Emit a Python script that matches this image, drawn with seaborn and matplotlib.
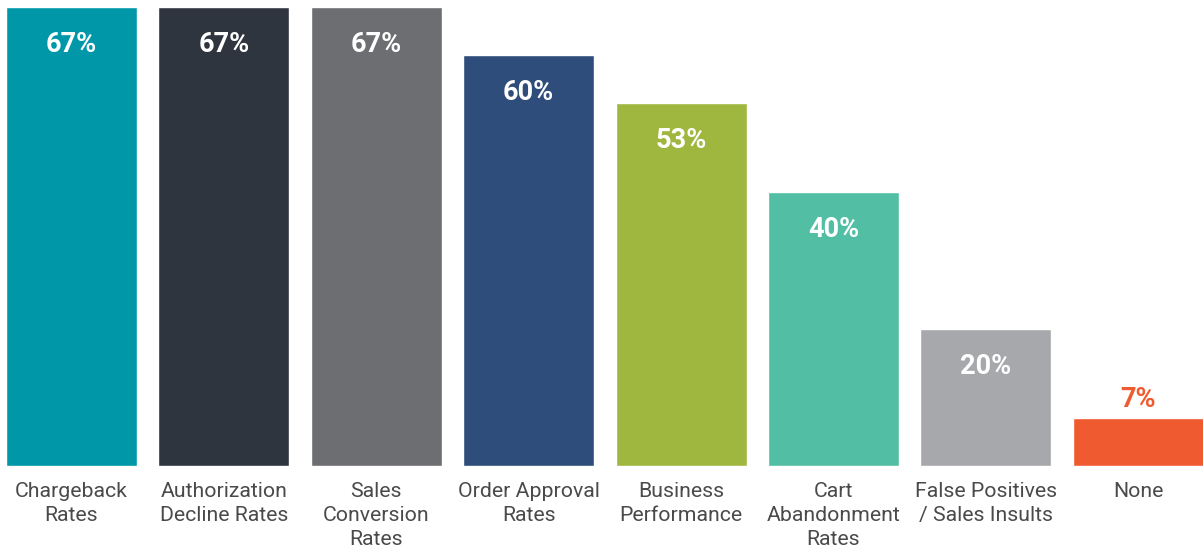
import matplotlib
matplotlib.use("Agg")
import matplotlib.pyplot as plt
import seaborn as sns
import pandas as pd

categories = [
    "Chargeback\nRates",
    "Authorization\nDecline Rates",
    "Sales\nConversion\nRates",
    "Order Approval\nRates",
    "Business\nPerformance",
    "Cart\nAbandonment\nRates",
    "False Positives\n/ Sales Insults",
    "None",
]
values = [67, 67, 67, 60, 53, 40, 20, 7]
colors = ["#0098a8", "#2f353f", "#6d6e72", "#2e4d7b",
          "#9fb73f", "#52bfa5", "#a7a8ac", "#f05a30"]

sns.set_theme(style="white")
plt.rcParams["font.family"] = ["Roboto", "DejaVu Sans"]

df = pd.DataFrame({"category": categories, "value": values})

fig = plt.figure(figsize=(12.03, 5.54), dpi=100)
ax = fig.add_axes([0, 0.1588, 1, 0.8285])

sns.barplot(data=df, x="category", y="value", hue="category",
            palette=colors, legend=False, width=0.86, saturation=1,
            ax=ax)

ax.set_ylim(0, 67)
ax.set_xlim(-0.469, 7.425)
ax.set_xlabel("")
ax.set_ylabel("")
ax.set_yticks([])
for s in ax.spines.values():
    s.set_visible(False)

ax.tick_params(axis="x", length=0, pad=11.5, labelsize=15.3, labelcolor="#4a4a4a")
for lbl in ax.get_xticklabels():
    lbl.set_linespacing(1.33)

for i, (v, c) in enumerate(zip(values, colors)):
    if v >= 15:
        ax.annotate(f"{v}%", (i, v), xytext=(0, -17), textcoords="offset points",
                    ha="center", va="top", fontsize=19.5, fontweight="bold",
                    color="white")
    else:
        ax.annotate(f"{v}%", (i, v), xytext=(0, 4), textcoords="offset points",
                    ha="center", va="bottom", fontsize=19.5, fontweight="bold",
                    color=c)

fig.savefig("out.png", dpi=100, facecolor="white")
